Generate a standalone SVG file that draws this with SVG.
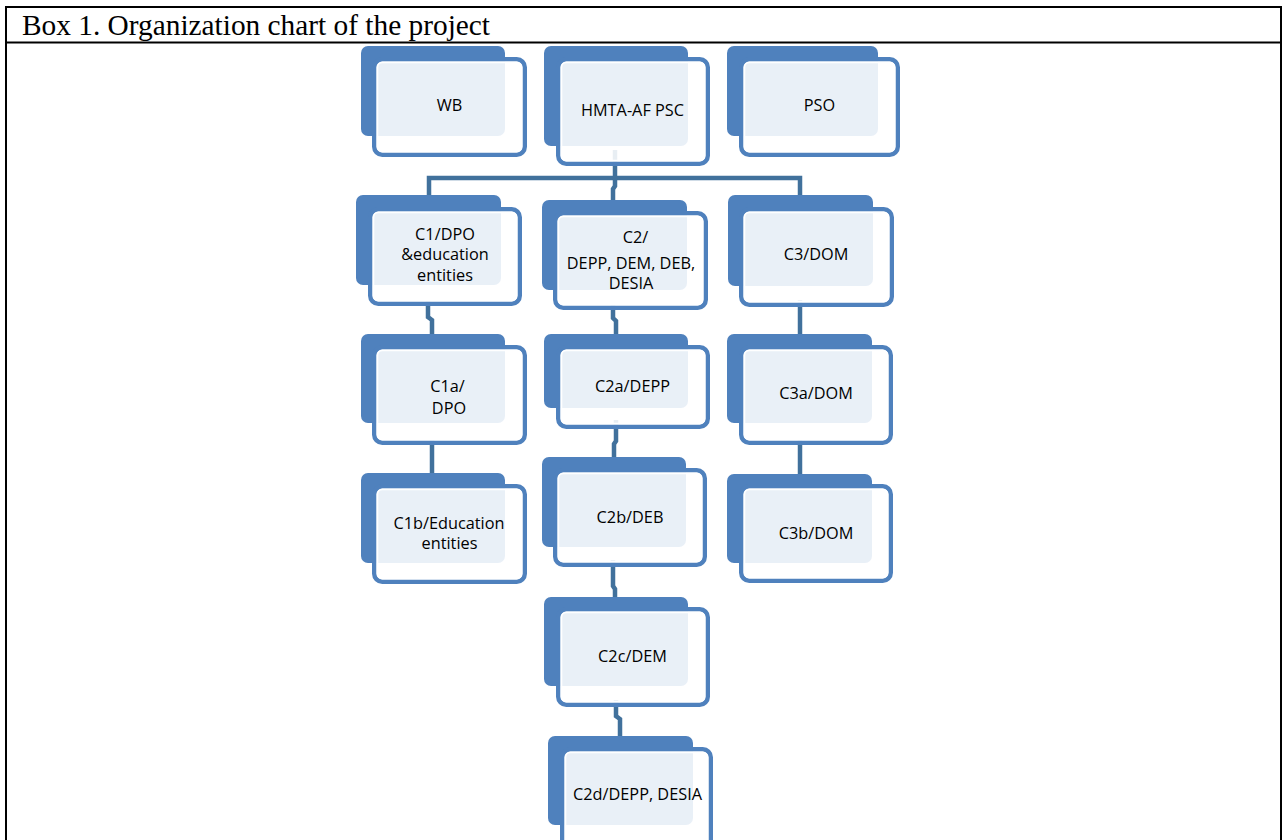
<svg xmlns="http://www.w3.org/2000/svg" width="1283" height="840" viewBox="0 0 1283 840">
<style>
.back{fill:#4F81BD}
.frame{fill:#fff;fill-opacity:0.88;stroke:#4F81BD;stroke-width:4.5}
.ring{fill:none;stroke:#fff;stroke-width:1.8}
.conn{fill:none;stroke:#41719C;stroke-width:4.5}
.lbl{font-family:"Open Sans","Noto Sans",sans-serif;font-size:16.3px;fill:#000;text-anchor:middle}
.title{font-family:"Liberation Serif","Times New Roman",serif;font-size:28.5px;fill:#000}
.border{stroke:#000;stroke-width:2;fill:none}
</style>
<rect x="0" y="0" width="1283" height="840" fill="#fff"/>
<g id="table">
<line class="border" x1="5" y1="7" x2="1282" y2="7"/>
<line class="border" x1="5" y1="42.5" x2="1282" y2="42.5"/>
<line class="border" x1="6" y1="6" x2="6" y2="840"/>
<line class="border" x1="1281" y1="6" x2="1281" y2="840"/>
<text class="title" x="22" y="35" textLength="468" lengthAdjust="spacingAndGlyphs">Box 1. Organization chart of the project</text>
</g>
<g id="connectors">
<path class="conn" d="M615,150 V178"/>
<path class="conn" d="M429,195 V178 H800 V195"/>
<path class="conn" d="M615,178 V186 L613,189 V200"/>
<path class="conn" d="M428,300 V317 L432,320 V334"/>
<path class="conn" d="M432,440 V473"/>
<path class="conn" d="M613,305 V318 L616,321 V334"/>
<path class="conn" d="M616,420 V441 L614,444 V457"/>
<path class="conn" d="M613,560 V586 L615,589 V597"/>
<path class="conn" d="M616,700 V716 L620,719 V736"/>
<path class="conn" d="M800,300 V334"/>
<path class="conn" d="M800,440 V474"/>
</g>
<g id="node-wb">
<rect class="back" x="361" y="46" width="144" height="90" rx="7"/>
<rect class="frame" x="374.25" y="59.25" width="150.5" height="95.5" rx="8"/>
<rect class="ring" x="377.4" y="62.4" width="144.2" height="89.2" rx="5"/>
<text class="lbl" x="449.5" y="110.5">WB</text>
</g>
<g id="node-hmta">
<rect class="back" x="544" y="46" width="144" height="100" rx="7"/>
<rect class="frame" x="558.25" y="59.25" width="149.5" height="104.5" rx="8"/>
<rect class="ring" x="561.4" y="62.4" width="143.2" height="98.2" rx="5"/>
<text class="lbl" x="632.5" y="116">HMTA-AF PSC</text>
</g>
<g id="node-pso">
<rect class="back" x="727" y="46" width="151" height="90" rx="7"/>
<rect class="frame" x="741.25" y="59.25" width="156.5" height="95.5" rx="8"/>
<rect class="ring" x="744.4" y="62.4" width="150.2" height="89.2" rx="5"/>
<text class="lbl" x="819.5" y="110.5">PSO</text>
</g>
<g id="node-c1">
<rect class="back" x="356" y="195" width="145" height="90" rx="7"/>
<rect class="frame" x="370.25" y="209.25" width="149.5" height="94.5" rx="8"/>
<rect class="ring" x="373.4" y="212.4" width="143.2" height="88.2" rx="5"/>
<text class="lbl" x="445" y="239.5">C1/DPO</text>
<text class="lbl" x="445" y="260">&amp;education</text>
<text class="lbl" x="445" y="280.5">entities</text>
</g>
<g id="node-c2">
<rect class="back" x="542" y="200" width="145" height="90" rx="7"/>
<rect class="frame" x="555.25" y="213.25" width="150.5" height="94.5" rx="8"/>
<rect class="ring" x="558.4" y="216.4" width="144.2" height="88.2" rx="5"/>
<text class="lbl" x="635.5" y="242.5">C2/</text>
<text class="lbl" x="631" y="269">DEPP, DEM, DEB,</text>
<text class="lbl" x="631" y="289">DESIA</text>
</g>
<g id="node-c3">
<rect class="back" x="728" y="195" width="145" height="91" rx="7"/>
<rect class="frame" x="741.25" y="209.25" width="150.5" height="95.5" rx="8"/>
<rect class="ring" x="744.4" y="212.4" width="144.2" height="89.2" rx="5"/>
<text class="lbl" x="816" y="260">C3/DOM</text>
</g>
<g id="node-c1a">
<rect class="back" x="361" y="334" width="144" height="89" rx="7"/>
<rect class="frame" x="374.25" y="347.25" width="150.5" height="95.5" rx="8"/>
<rect class="ring" x="377.4" y="350.4" width="144.2" height="89.2" rx="5"/>
<text class="lbl" x="447.5" y="391.5">C1a/</text>
<text class="lbl" x="449" y="413.5">DPO</text>
</g>
<g id="node-c2a">
<rect class="back" x="544" y="334" width="144" height="74" rx="7"/>
<rect class="frame" x="558.25" y="347.25" width="149.5" height="79.5" rx="8"/>
<rect class="ring" x="561.4" y="350.4" width="143.2" height="73.2" rx="5"/>
<text class="lbl" x="632.5" y="391.5">C2a/DEPP</text>
</g>
<g id="node-c3a">
<rect class="back" x="727" y="334" width="145" height="89" rx="7"/>
<rect class="frame" x="741.25" y="347.25" width="149.5" height="95.5" rx="8"/>
<rect class="ring" x="744.4" y="350.4" width="143.2" height="89.2" rx="5"/>
<text class="lbl" x="816" y="399">C3a/DOM</text>
</g>
<g id="node-c1b">
<rect class="back" x="361" y="473" width="144" height="90" rx="7"/>
<rect class="frame" x="374.25" y="486.25" width="150.5" height="95.5" rx="8"/>
<rect class="ring" x="377.4" y="489.4" width="144.2" height="89.2" rx="5"/>
<text class="lbl" x="449" y="528.5">C1b/Education</text>
<text class="lbl" x="449.5" y="548.5">entities</text>
</g>
<g id="node-c2b">
<rect class="back" x="542" y="457" width="144" height="90" rx="7"/>
<rect class="frame" x="555.25" y="470.25" width="149.5" height="94.5" rx="8"/>
<rect class="ring" x="558.4" y="473.4" width="143.2" height="88.2" rx="5"/>
<text class="lbl" x="630" y="522.5">C2b/DEB</text>
</g>
<g id="node-c3b">
<rect class="back" x="727" y="474" width="145" height="89" rx="7"/>
<rect class="frame" x="741.25" y="486.25" width="149.5" height="94.5" rx="8"/>
<rect class="ring" x="744.4" y="489.4" width="143.2" height="88.2" rx="5"/>
<text class="lbl" x="816" y="538.5">C3b/DOM</text>
</g>
<g id="node-c2c">
<rect class="back" x="544" y="597" width="144" height="89" rx="7"/>
<rect class="frame" x="558.25" y="609.25" width="149.5" height="95.5" rx="8"/>
<rect class="ring" x="561.4" y="612.4" width="143.2" height="89.2" rx="5"/>
<text class="lbl" x="632.5" y="661.5">C2c/DEM</text>
</g>
<g id="node-c2d">
<rect class="back" x="548" y="736" width="145" height="89" rx="7"/>
<rect class="frame" x="562.25" y="749.25" width="148.5" height="105.5" rx="8"/>
<rect class="ring" x="565.4" y="752.4" width="142.2" height="99.2" rx="5"/>
<text class="lbl" x="637.5" y="800">C2d/DEPP, DESIA</text>
</g>
</svg>
